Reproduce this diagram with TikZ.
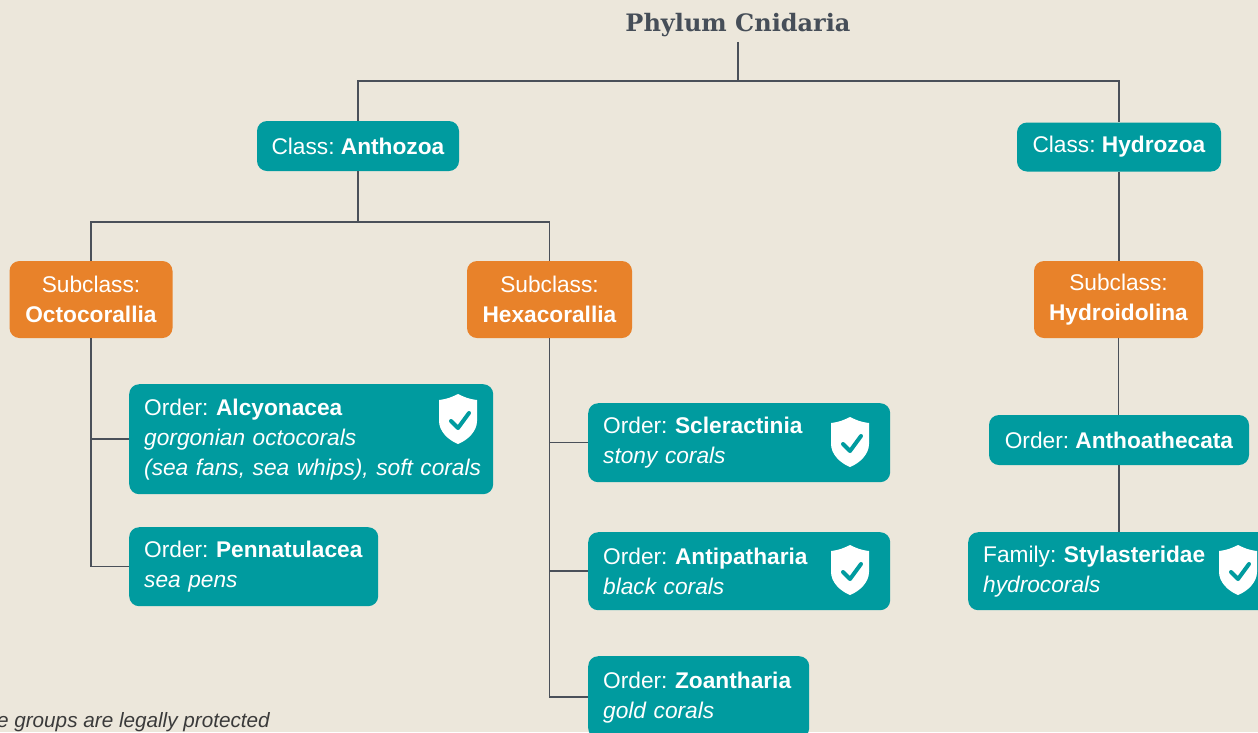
\documentclass[tikz,border=0pt]{standalone}
\usepackage{fontspec}
\setmainfont{Liberation Sans}
\newfontfamily\slabfont{DejaVu Serif}
\frenchspacing
\definecolor{paper}{HTML}{ECE7DB}
\definecolor{coralteal}{HTML}{009B9F}
\definecolor{coralorange}{HTML}{E8822A}
\definecolor{linkgray}{HTML}{4A5059}
\definecolor{titlegray}{HTML}{464E58}
\definecolor{notegray}{HTML}{3A3A3A}
\def\rank#1#2{\mbox{#1: \textbf{#2}}}
\def\shieldicon(#1){\begin{scope}[shift={(#1)}]
	\fill[white] (0,-25) .. controls (-4,-23) and (-10,-20) .. (-19,-19) -- (-19,2) .. controls (-19,12) and (-10,21) .. (0,25) .. controls (10,21) and (19,12) .. (19,2) -- (19,-19) .. controls (10,-20) and (4,-23) .. (0,-25);
	\draw[coralteal, line width=4, line cap=round, line join=round] (-7,2) -- (0,9) -- (11,-6);
\end{scope}}

\begin{document}
\begin{tikzpicture}[x=1pt, y=-1pt,
	link/.style={draw=linkgray, line width=1.5},
	taxon/.style={fill=coralteal, text=white, rounded corners=10, inner sep=0, font=\fontsize{22.7}{30}\selectfont},
	subclass/.style={taxon, fill=coralorange, align=center},
	order/.style={taxon, anchor=north west, align=left, inner xsep=15, text width=#1}]
			%%%%% START %%%%%
			
			\useasboundingbox (0,0) rectangle (1258,732);
			\clip (0,0) rectangle (1258,732);
			\fill[paper] (0,0) rectangle (1258,732);
			
			\node[anchor=base, font=\slabfont\bfseries\fontsize{24}{28}\selectfont, text=titlegray, inner sep=4.6] (phylum) at (738,31.7) {Phylum Cnidaria};
			
			\node[taxon, minimum width=202, minimum height=50] (anthozoa) at (358,146) {Class: \textbf{Anthozoa}};
			\node[taxon, minimum width=204, minimum height=49] (hydrozoa) at (1119,147) {Class: \textbf{Hydrozoa}};
			
			\node[subclass, minimum width=163, minimum height=77] (octocorallia) at (91,299.5) {Subclass:\\\textbf{Octocorallia}};
			\node[subclass, minimum width=165, minimum height=77] (hexacorallia) at (549.5,299.5) {Subclass:\\\textbf{Hexacorallia}};
			\node[subclass, minimum width=169, minimum height=77] (hydroidolina) at (1118.5,299.5) {Subclass:\\\textbf{Hydroidolina}};
			
			\node[order=334, minimum height=110] (alcyonacea) at (129,384) {\rank{Order}{Alcyonacea}\\\textit{gorgonian octocorals}\\\mbox{\textit{(sea fans, sea whips), soft corals}}};
			\node[order=219, minimum height=79] (pennatulacea) at (129,527) {\rank{Order}{Pennatulacea}\\\textit{sea pens}};
			\node[order=272, minimum height=79] (scleractinia) at (588,403) {\rank{Order}{Scleractinia}\\\textit{stony corals}};
			\node[order=272, minimum height=78] (antipatharia) at (588,532) {\rank{Order}{Antipatharia}\\\textit{black corals}};
			\node[order=191, minimum height=82] (zoantharia) at (588,656) {\rank{Order}{Zoantharia}\\\textit{gold corals}};
			\node[taxon, minimum width=260, minimum height=50] (anthoathecata) at (1119,440) {Order: \textbf{Anthoathecata}};
			\node[order=280, minimum height=78] (stylasteridae) at (968,532) {\rank{Family}{Stylasteridae}\\\textit{hydrocorals}};
			
			\shieldicon(458,419);
			\shieldicon(850,442);
			\shieldicon(850,570);
			\shieldicon(1238,570);
			
			\node[anchor=base east, font=\itshape\fontsize{20.7}{24}\selectfont, text=notegray, inner sep=0] (note) at (270,727) {e groups are legally protected};
			
			\coordinate (phylumbar) at (738,81);
			\coordinate (anthozoabar) at (358,222);
			\draw[link] (phylum.south) -- (phylumbar);
			\draw[link] (anthozoa.north) |- (phylumbar) -| (hydrozoa.north);
			\draw[link] (anthozoa.south) -- (anthozoabar);
			\draw[link] (octocorallia.north) |- (anthozoabar) -| (hexacorallia.north);
			\draw[link] (hydrozoa.south) -- (hydrozoa.south |- hydroidolina.north);
			\draw[link] (hydroidolina.south) -- (hydroidolina.south |- anthoathecata.north);
			\draw[link] (anthoathecata.south) -- (anthoathecata.south |- stylasteridae.north);
			
			\draw[link] (octocorallia.south) |- (alcyonacea.west);
			\draw[link] (octocorallia.south) |- (pennatulacea.west);
			\draw[link] (hexacorallia.south) |- (scleractinia.west);
			\draw[link] (hexacorallia.south) |- (antipatharia.west);
			\draw[link] (hexacorallia.south) |- (zoantharia.west);
			
			%%%%% END %%%%%
\end{tikzpicture}
\end{document}
